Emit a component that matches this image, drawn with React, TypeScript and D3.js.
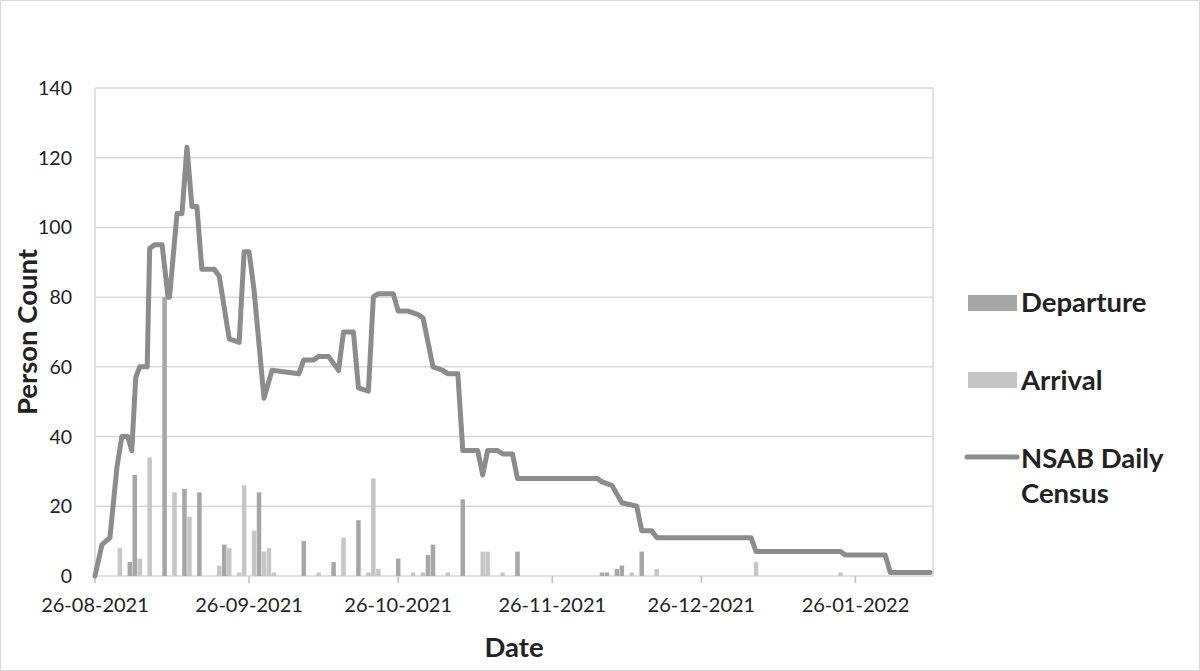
import React from "react";
import * as d3 from "d3";

// ---- data ----
const startDate = new Date(2021, 7, 26); // 26-08-2021
const axisEndDay = 168.6;

const censusDays = [0, 1.4, 3, 4.4, 5.4, 6.6, 7.4, 8.2, 9, 10.5, 11, 12, 13.5, 14.7, 15, 16.5, 17.5, 18.5, 19.5, 20.5, 21.5, 24, 25, 27, 29, 30, 31, 32, 34, 35.6, 41, 42, 44, 45, 47, 49, 50, 52, 53, 55, 56, 57, 60, 61, 63, 65, 66, 68, 70, 71, 73, 74, 77, 78, 79, 81, 82, 84, 85, 101, 102, 104, 106, 109, 110, 112, 113, 132, 133, 150, 151, 159, 160, 168];
const censusValues = [0, 9, 11, 31, 40, 40, 36, 57, 60, 60, 94, 95, 95, 80, 80, 104, 104, 123, 106, 106, 88, 88, 86, 68, 67, 93, 93, 82, 51, 59, 58, 62, 62, 63, 63, 59, 70, 70, 54, 53, 80, 81, 81, 76, 76, 75, 74, 60, 59, 58, 58, 36, 36, 29, 36, 36, 35, 35, 28, 28, 27, 26, 21, 20, 13, 13, 11, 11, 7, 7, 6, 6, 1, 1];

const departureDays = [7, 8, 14, 18, 21, 26, 33, 42, 48, 53, 61, 67, 68, 74, 85, 102, 103, 105, 106, 110];
const departureValues = [4, 29, 80, 25, 24, 9, 24, 10, 4, 16, 5, 6, 9, 22, 7, 1, 1, 2, 3, 7];

const arrivalDays = [5, 9, 11, 16, 19, 25, 27, 29, 30, 32, 34, 35, 36, 45, 50, 55, 56, 57, 64, 66, 71, 78, 79, 82, 108, 113, 133, 150];
const arrivalValues = [8, 5, 34, 24, 17, 3, 8, 1, 26, 13, 7, 8, 1, 1, 11, 1, 28, 2, 1, 1, 1, 7, 7, 1, 1, 2, 4, 1];

const yTicks = [0, 20, 40, 60, 80, 100, 120, 140];
const xTickDates = [
  new Date(2021, 7, 26),
  new Date(2021, 8, 26),
  new Date(2021, 9, 26),
  new Date(2021, 10, 26),
  new Date(2021, 11, 26),
  new Date(2022, 0, 26),
];

const seriesNames = ["Departure", "Arrival", "NSAB Daily", "Census"];

const COLORS = {
  departure: "#a6a6a6",
  arrival: "#c6c6c6",
  line: "#8c8c8c",
  grid: "#d9d9d9",
  text: "#222222",
};

const dayToDate = (d: number) => new Date(startDate.getTime() + d * 86400000);

export default function App() {
  const W = 1200;
  const H = 671;
  const left = 95;
  const right = 933;
  const top = 88;
  const bottom = 576;

  const x = d3.scaleTime().domain([startDate, dayToDate(axisEndDay)]).range([left, right]);
  const y = d3.scaleLinear().domain([0, 140]).range([bottom, top]);
  const fmt = d3.timeFormat("%d-%m-%Y");

  const line = d3
    .line<number>()
    .x((_, i) => x(dayToDate(censusDays[i])))
    .y((v) => y(v))
    .curve(d3.curveLinear);

  const barW = 4.5;
  const font = "Lato, 'Open Sans', sans-serif";

  return (
    <svg
      width={W}
      height={H}
      style={{ position: "absolute", left: 0, top: 0, background: "#fff" }}
      fontFamily={font}
    >
      <rect x={0.5} y={0.5} width={W - 1} height={H - 1} fill="#fff" stroke="#d9d9d9" />
      {/* gridlines */}
      {yTicks.map((t) => (
        <line key={t} x1={left} x2={right} y1={y(t)} y2={y(t)} stroke={COLORS.grid} strokeWidth={1.5} />
      ))}
      <line x1={left} x2={left} y1={top} y2={bottom} stroke={COLORS.grid} strokeWidth={1.5} />
      <line x1={right} x2={right} y1={top} y2={bottom} stroke={COLORS.grid} strokeWidth={1.5} />
      {/* x ticks */}
      {xTickDates.map((d, i) => (
        <g key={i}>
          <line x1={x(d)} x2={x(d)} y1={bottom} y2={bottom + 7} stroke="#bfbfbf" strokeWidth={1.5} />
          <text x={x(d)} y={612} textAnchor="middle" fontSize={20} fill={COLORS.text}>
            {fmt(d)}
          </text>
        </g>
      ))}
      {/* y tick labels */}
      {yTicks.map((t) => (
        <text key={t} x={72} y={y(t) + 7} textAnchor="end" fontSize={19.5} fill={COLORS.text}>
          {t}
        </text>
      ))}
      {/* bars */}
      {arrivalDays.map((d, i) => (
        <rect
          key={"a" + i}
          x={x(dayToDate(d)) - barW / 2}
          y={y(arrivalValues[i])}
          width={barW}
          height={y(0) - y(arrivalValues[i])}
          fill={COLORS.arrival}
        />
      ))}
      {departureDays.map((d, i) => (
        <rect
          key={"d" + i}
          x={x(dayToDate(d)) - barW / 2}
          y={y(departureValues[i])}
          width={barW}
          height={y(0) - y(departureValues[i])}
          fill={COLORS.departure}
        />
      ))}
      {/* line */}
      <path
        d={line(censusValues) || ""}
        fill="none"
        stroke={COLORS.line}
        strokeWidth={5}
        strokeLinejoin="round"
        strokeLinecap="round"
      />
      {/* axis titles */}
      <text x={514} y={657} textAnchor="middle" fontSize={27.5} fontWeight="bold" fill={COLORS.text}>
        Date
      </text>
      <text
        transform={`translate(37, ${(top + bottom) / 2}) rotate(-90)`}
        textAnchor="middle"
        fontSize={27.5}
        fontWeight="bold"
        fill={COLORS.text}
      >
        Person Count
      </text>
      {/* legend */}
      <rect x={968} y={295} width={49} height={16} fill={COLORS.departure} />
      <text x={1021} y={312} fontSize={27.5} fontWeight="bold" fill={COLORS.text}>
        {seriesNames[0]}
      </text>
      <rect x={968} y={372} width={49} height={16} fill={COLORS.arrival} />
      <text x={1021} y={390} fontSize={27.5} fontWeight="bold" fill={COLORS.text}>
        {seriesNames[1]}
      </text>
      <line x1={967} x2={1017} y1={457} y2={457} stroke={COLORS.line} strokeWidth={5} strokeLinecap="round" />
      <text x={1021} y={468} fontSize={27.5} fontWeight="bold" fill={COLORS.text}>
        {seriesNames[2]}
      </text>
      <text x={1021} y={503} fontSize={27.5} fontWeight="bold" fill={COLORS.text}>
        {seriesNames[3]}
      </text>
    </svg>
  );
}
